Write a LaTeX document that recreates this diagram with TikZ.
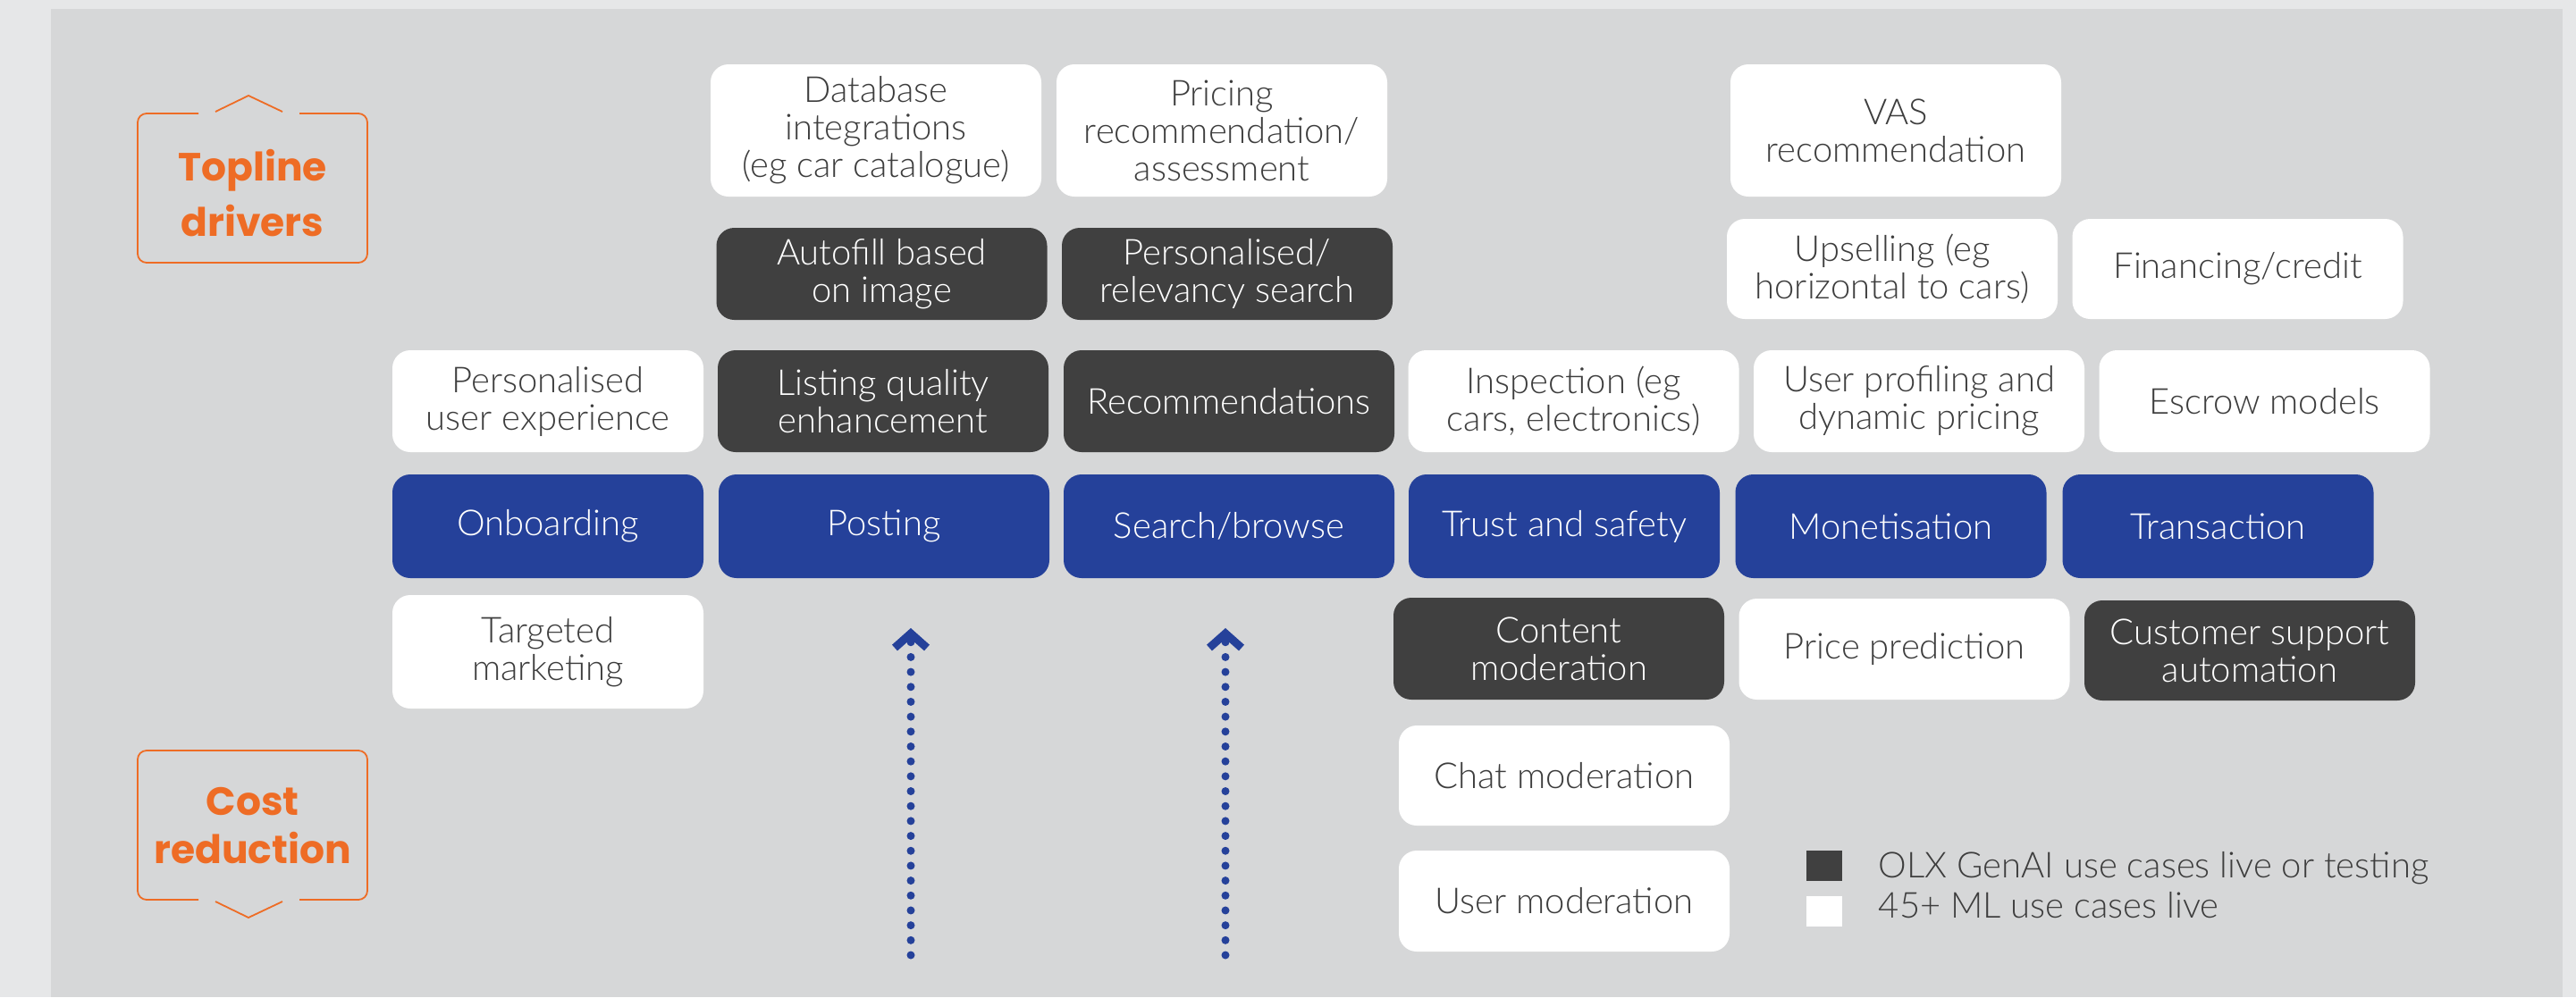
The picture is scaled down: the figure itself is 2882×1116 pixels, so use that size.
\documentclass[tikz,border=0pt]{standalone}
\usepackage{fontspec}
\setmainfont{Lato}[UprightFont={* Light}]
\newfontfamily\headfont{Poppins}
\usepackage{tikz}
\usetikzlibrary{arrows.meta}
\definecolor{bgout}{HTML}{E6E7E8}
\definecolor{bgpanel}{HTML}{D6D7D8}
\definecolor{olxdark}{HTML}{404040}
\definecolor{olxblue}{HTML}{25419A}
\definecolor{olxorange}{HTML}{EE6C25}
\definecolor{txtgray}{HTML}{3D3D3D}

\begin{document}
\begin{tikzpicture}[x=0.25pt,y=0.25pt,yscale=-1,
  card/.style={rounded corners=5pt, inner sep=2pt, align=center, minimum width=92.5pt, font=\fontsize{10}{10.5}\selectfont},
  wbox/.style={card, fill=white, text=txtgray},
  dbox/.style={card, fill=olxdark, text=white},
  bbox/.style={card, fill=olxblue, text=white},
  hframe/.style={draw=olxorange, line width=0.45pt, rounded corners=2.5pt},
  headtxt/.style={text=olxorange, align=center, inner sep=0pt},
  dotarrow/.style={olxblue, line width=2.25pt, line cap=round, dash pattern=on 0pt off 4.17pt, -{Straight Barb[length=4pt,width=9pt]}},
  legsq/.style={minimum width=10pt, minimum height=8.5pt, inner sep=0pt},
  legtxt/.style={anchor=base west, inner sep=0pt, text=txtgray, font=\fontsize{10}{10.5}\selectfont}]

%Shape: Background
\fill [bgout] (0,0) rectangle (2882,1116);
\fill [bgpanel] (57,10) rectangle (2867,1116);

%Shape: Topline frame
\draw [hframe] (222,127) -- (154,127) -- (154,294) -- (411,294) -- (411,127) -- (335,127);
\draw [hframe, sharp corners] (241,125) -- (278,107) -- (316,125);
% Text Node
\node [headtxt, font=\headfont\bfseries\fontsize{11}{15.4}\selectfont] (topline) at (282.5,216) {Topline\\drivers};

%Shape: Cost frame
\draw [hframe] (222,1007) -- (154,1007) -- (154,840) -- (411,840) -- (411,1007) -- (335,1007);
\draw [hframe, sharp corners] (241,1009) -- (278,1027) -- (316,1009);
% Text Node
\node [headtxt, font=\headfont\bfseries\fontsize{11}{13.5}\selectfont] (costred) at (282.5,924) {Cost\\reduction};

% top row
\node [wbox, minimum height=37pt] (dbint) at (980,146) {Database\\integrations\\(eg car catalogue)};
\node [wbox, minimum height=37pt] (pricerec) at (1367,146) {Pricing\\recommendation/\\assessment};
\node [wbox, minimum height=37pt] (vasrec) at (2121,146) {VAS\\recommendation};

% second row
\node [dbox, minimum height=25.75pt] (autofill) at (986.5,306.5) {Autofill based\\on image};
\node [dbox, minimum height=25.75pt] (relsearch) at (1373,306.5) {Personalised/\\relevancy search};
\node [wbox, minimum height=28pt] (upsell) at (2117,301) {Upselling (eg\\horizontal to cars)};
\node [wbox, minimum height=28pt] (finance) at (2503.5,301) {Financing/credit};

% third row
\node [wbox, minimum height=28.5pt, minimum width=87pt] (persux) at (613,449) {Personalised\\user experience};
\node [dbox, minimum height=28.5pt] (listq) at (988,449) {Listing quality\\enhancement};
\node [dbox, minimum height=28.5pt] (recs) at (1375,449) {Recommendations};
\node [wbox, minimum height=28.5pt] (inspect) at (1760.5,449) {Inspection (eg\\cars, electronics)};
\node [wbox, minimum height=28.5pt] (profiling) at (2147,449) {User profiling and\\dynamic pricing};
\node [wbox, minimum height=28.5pt] (escrow) at (2533.5,449) {Escrow models};

% value chain
\node [bbox, minimum height=29pt, minimum width=87pt] (onboard) at (613,589) {Onboarding};
\node [bbox, minimum height=29pt] (posting) at (989,589) {Posting};
\node [bbox, minimum height=29pt] (search) at (1375,589) {Search/browse};
\node [bbox, minimum height=29pt, minimum width=87pt] (trust) at (1750,589) {Trust and safety};
\node [bbox, minimum height=29pt, minimum width=87pt] (monet) at (2115.5,589) {Monetisation};
\node [bbox, minimum height=29pt, minimum width=87pt] (transact) at (2481.5,589) {Transaction};

% cost rows
\node [wbox, minimum height=31.75pt, minimum width=87pt] (targeted) at (613,729.5) {Targeted\\marketing};
\node [dbox, minimum height=28.5pt] (contmod) at (1744,726) {Content\\moderation};
\node [wbox, minimum height=28.25pt] (pricepred) at (2130.5,726.5) {Price prediction};
\node [dbox, minimum height=28pt] (custsup) at (2517,728) {Customer support\\automation};
\node [wbox, minimum height=28pt] (chatmod) at (1750,868) {Chat moderation};
\node [wbox, minimum height=28.25pt] (usermod) at (1750,1008.5) {User moderation};

%Straight Lines: dotted arrows
\coordinate (arrA0) at (1019,1069);
\coordinate (arrA1) at (1019,703);
\coordinate (arrB0) at (1371,1069);
\coordinate (arrB1) at (1371,703);
\draw [dotarrow] (arrA0) -- (arrA1);
\draw [dotarrow] (arrB0) -- (arrB1);

% Legend
\node [legsq, fill=olxdark] (legdark) at (2041,969) {};
\node [legsq, fill=white] (legwhite) at (2041,1020) {};
\node [legtxt] (legdarktxt) at (2101,982) {OLX GenAI use cases live or testing};
\node [legtxt] (legwhitetxt) at (2101,1027) {45+ ML use cases live};
\end{tikzpicture}
\end{document}
